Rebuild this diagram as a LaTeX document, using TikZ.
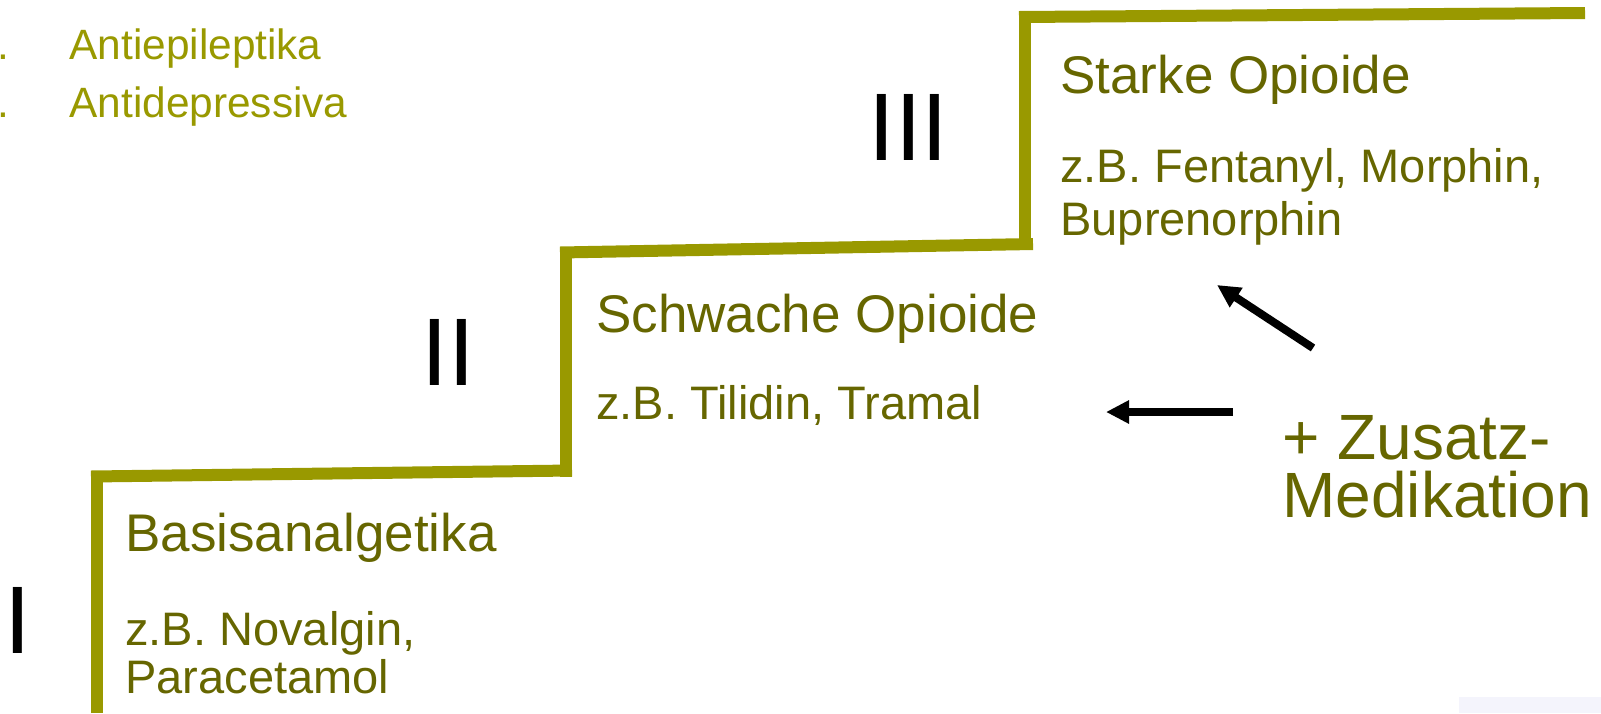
\documentclass[tikz,border=0pt]{standalone}
\usepackage{fontspec}
\setmainfont{Liberation Sans}
\usetikzlibrary{arrows.meta}
\definecolor{stairc}{HTML}{999900}
\definecolor{litec}{HTML}{999900}
\definecolor{darkc}{HTML}{666600}
\definecolor{cornerc}{HTML}{F4F4FC}
\begin{document}
\begin{tikzpicture}[x=0.5pt,y=-0.5pt,
  stair/.style={line width=6pt,draw=stairc},
  head/.style={anchor=base west,inner sep=0pt,text=darkc,font=\fontsize{26.5}{30}\selectfont},
  sub/.style={anchor=base west,inner sep=0pt,text=darkc,font=\fontsize{23.5}{27}\selectfont},
  extra/.style={anchor=base west,inner sep=0pt,text=darkc,font=\fontsize{32}{36}\selectfont},
  listitem/.style={anchor=base west,inner sep=0pt,text=litec,font=\fontsize{21.2}{25}\selectfont},
  level/.style={anchor=north west,inner sep=0pt,text=black,font=\fontsize{48}{52}\selectfont},
  push/.style={line width=4pt,draw=black,-{Triangle[length=11.5pt,width=11pt]}}]
\useasboundingbox (0,0) rectangle (1601,713);
\fill[cornerc] (1459,697) rectangle (1601,713);

% the three steps
\draw[stair] (97,713) -- (97,471);
\draw[stair] (91,476.5) -- (572,470.5);
\draw[stair] (566,477) -- (566,247);
\draw[stair] (560,252.5) -- (1033,244);
\draw[stair] (1025,250) -- (1025,11);
\draw[stair] (1019,17) -- (1585,13);

% co-medication list
\node[listitem] (d1) at (-3,59) {.};
\node[listitem] (d2) at (-3,117) {.};
\node[listitem] (l1) at (69,59) {Antiepileptika};
\node[listitem] (l2) at (69,117) {Antidepressiva};

% step levels
\node[level] (r3) at (868,94) {III};
\node[level] (r2) at (421,319) {II};
\node[level] (r1) at (4,587) {I};

% step contents
\node[head] (s3) at (1060,93) {Starke Opioide};
\node[sub] (s3a) at (1060,182) {z.B. Fentanyl, Morphin,};
\node[sub] (s3b) at (1060,235) {Buprenorphin};
\node[head] (s2) at (596,332) {Schwache Opioide};
\node[sub] (s2a) at (596,419) {z.B. Tilidin, Tramal};
\node[head] (s1) at (125,551) {Basisanalgetika};
\node[sub] (s1a) at (125,645) {z.B. Novalgin,};
\node[sub] (s1b) at (125,693) {Paracetamol};

\node[extra] (z1) at (1282,459) {+ Zusatz-};
\node[extra] (z2) at (1282,517) {Medikation};

% arrows
\coordinate (a1s) at (1313,348);
\coordinate (a1e) at (1217,285);
\coordinate (a2s) at (1233,412);
\coordinate (a2e) at (1106,412);
\draw[push] (a1s) -- (a1e);
\draw[push] (a2s) -- (a2e);
\end{tikzpicture}
\end{document}
